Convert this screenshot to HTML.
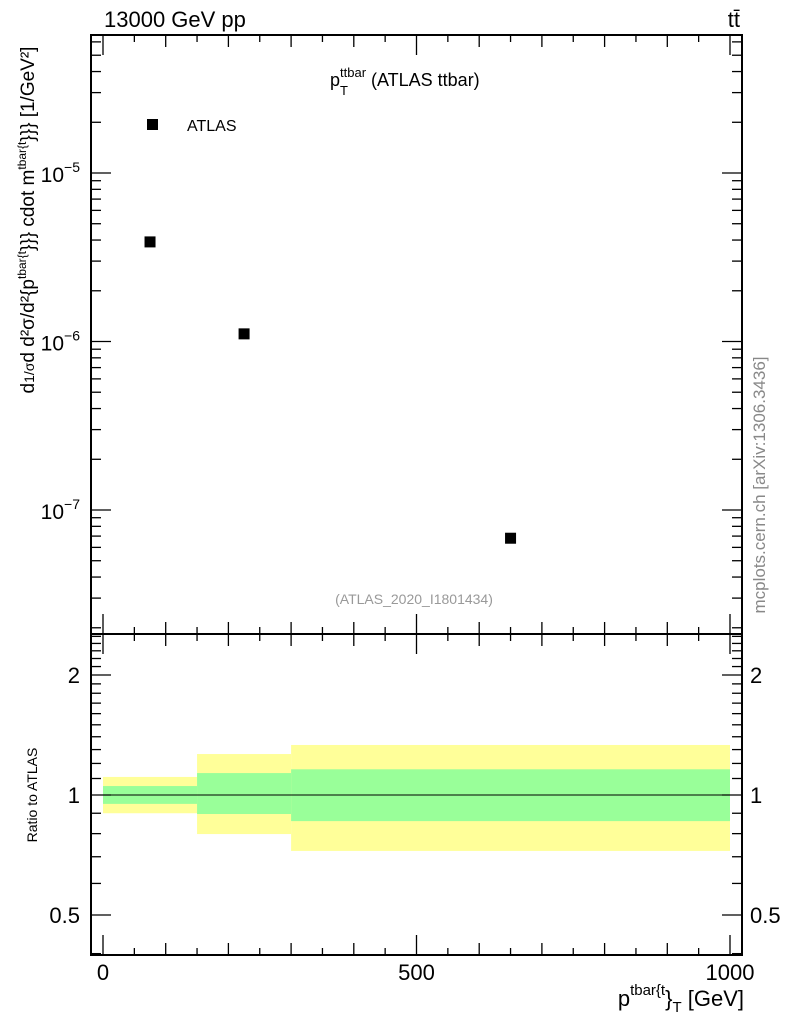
<!DOCTYPE html>
<html><head><meta charset="utf-8"><style>
body{margin:0;background:#fff;}
svg{font-family:"Liberation Sans",sans-serif;}
</style></head><body>
<svg id="c" width="786" height="1024" viewBox="0 0 786 1024" xmlns="http://www.w3.org/2000/svg">
<g id="g"></g>
<text x="104" y="27" font-size="22">13000 GeV pp</text>
<text x="740" y="27" font-size="22" text-anchor="end">tt̄</text>
<text x="330" y="86" font-size="18">p<tspan dy="-9" font-size="13">ttbar</tspan><tspan dx="-26" dy="18" font-size="13">T</tspan><tspan dx="18" dy="-9"> (ATLAS ttbar)</tspan></text>
<text x="414" y="604" font-size="14" fill="#999" text-anchor="middle">(ATLAS_2020_I1801434)</text>
<rect x="147" y="119" width="11" height="11" fill="#000"/>
<text x="187" y="131" font-size="16">ATLAS</text>
<text transform="translate(34,220) rotate(-90)" font-size="19" text-anchor="middle">d<tspan font-size="14">1/σ</tspan>d d²σ/d²{p<tspan dy="-8" font-size="12">tbar{t</tspan><tspan dy="8">}}} cdot m</tspan><tspan dy="-8" font-size="12">tbar{t</tspan><tspan dy="8">}}} [1/GeV²]</tspan></text>
<text transform="translate(37,795) rotate(-90)" font-size="14" text-anchor="middle">Ratio to ATLAS</text>
<text transform="translate(765,485) rotate(-90)" font-size="17" fill="#888" text-anchor="middle">mcplots.cern.ch [arXiv:1306.3436]</text>
<text x="744" y="1006" font-size="22" text-anchor="end">p<tspan dy="-11" font-size="15">tbar{t</tspan><tspan dy="11">}</tspan><tspan dy="6" font-size="15">T</tspan><tspan dy="-6"> [GeV]</tspan></text>
</svg>
<script>
const xCenters=[75,225,650];
const yValues=[3.9e-6,1.11e-6,6.8e-8];
const binEdges=[0,150,300,1000];
const greenHi=[1.053,1.135,1.16];
const greenLo=[0.95,0.896,0.86];
const yellowHi=[1.11,1.267,1.335];
const yellowLo=[0.90,0.798,0.724];
const xTicks=[0,500,1000];
const ratioTicks=[0.5,1,2];
const ns="http://www.w3.org/2000/svg";
const g=document.getElementById('g');
const L=91,R=742,T=35,B=634,RT=634,RB=955;
const X=v=>103+v*0.627;
const Y=v=>173-(Math.log10(v)+5)*168.5;
const RY=v=>795-Math.log2(v)*120;
function mk(t,a){const e=document.createElementNS(ns,t);for(const k in a)e.setAttribute(k,a[k]);g.appendChild(e);return e;}
for(let i=0;i<binEdges.length-1;i++){
 let e=mk('rect',{x:X(binEdges[i]),y:RY(yellowHi[i]),width:X(binEdges[i+1])-X(binEdges[i]),height:RY(yellowLo[i])-RY(yellowHi[i]),fill:'#ffff99'});
 
 
 e=mk('rect',{x:X(binEdges[i]),y:RY(greenHi[i]),width:X(binEdges[i+1])-X(binEdges[i]),height:RY(greenLo[i])-RY(greenHi[i]),fill:'#99ff99'});
 
 
}
let ln=mk('line',{x1:L,x2:R,y1:RY(1),y2:RY(1),stroke:'#000','stroke-width':1});


xCenters.forEach((x,i)=>{const e=mk('rect',{x:X(x)-5.5,y:Y(yValues[i])-5.5,width:11,height:11,fill:'#000'});
 
 });
[[T,B,'main-frame'],[RT,RB,'ratio-frame']].forEach(([t,b,n])=>{const e=mk('rect',{x:L,y:t,width:R-L,height:b-t,fill:'none',stroke:'#000','stroke-width':2});
 
 });
function tk(x1,y1,x2,y2){mk('line',{x1,y1,x2,y2,stroke:'#000','stroke-width':1.3});}
for(let v=0;v<=1000;v+=50){const x=X(v);const len=v%500==0?20:(v%100==0?12:7);
 [[T,1],[B,-1],[RT,1],[RB,-1]].forEach(([y,d])=>tk(x,y,x,y+d*len));}
xTicks.forEach(v=>{const e=mk('text',{x:X(v),y:980,'font-size':22,'text-anchor':'middle'});e.textContent=v;
 
 });
for(let d=-8;d<=-4;d++)for(let m=1;m<10;m++){const v=m*Math.pow(10,d);const y=Y(v);if(y<T||y>B)continue;const len=m==1?20:10;tk(L,y,L+len,y);tk(R,y,R-len,y);}
[-5,-6,-7].forEach(d=>{const e=mk('text',{x:80,y:Y(Math.pow(10,d))+9,'font-size':21,'text-anchor':'end'});e.innerHTML='10<tspan dy="-10" font-size="14">'+String(d).replace('-','−')+'</tspan>';
 
 });
for(let v=0.4;v<=2.55;v+=0.1){const y=RY(v);if(y<RT||y>RB)continue;const maj=ratioTicks.some(t=>Math.abs(t-v)<1e-6);const len=maj?20:10;tk(L,y,L+len,y);tk(R,y,R-len,y);}
ratioTicks.forEach(v=>{[[80,'end'],[750,'start']].forEach(([x,a])=>{const e=mk('text',{x,y:RY(v)+8,'font-size':22,'text-anchor':a});e.textContent=v;
 
 });});
</script>
</body></html>
